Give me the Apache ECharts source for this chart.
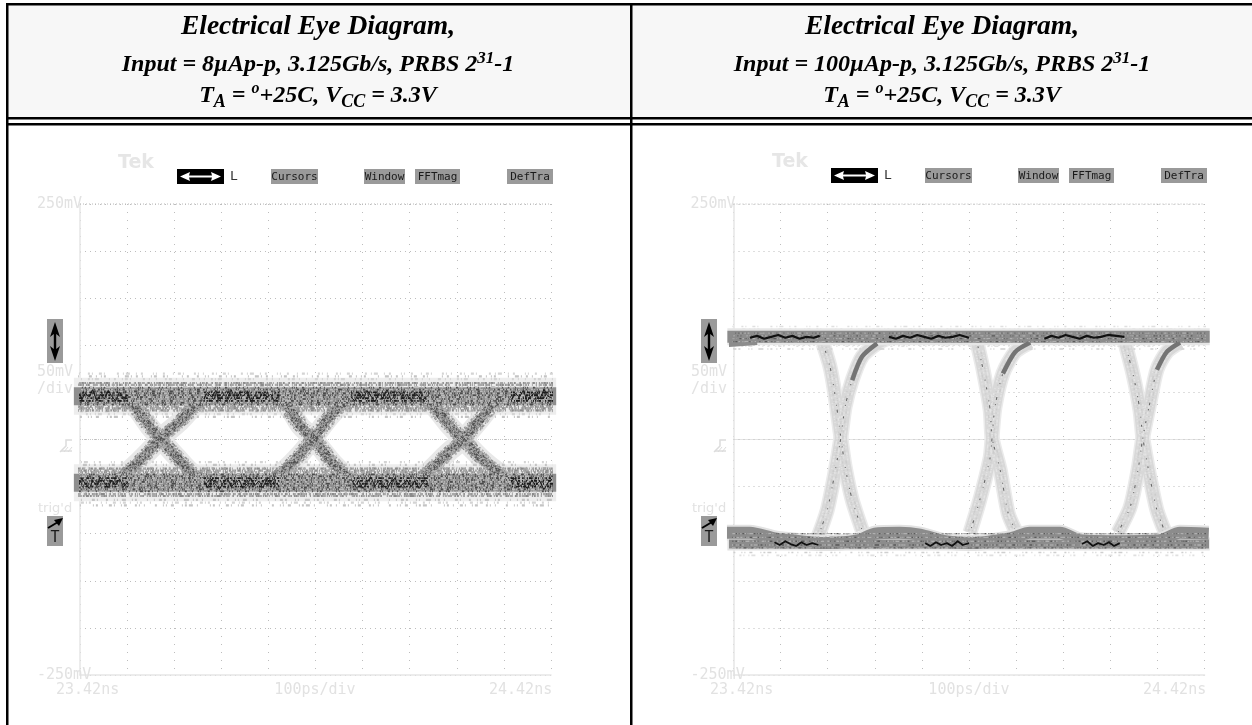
<!DOCTYPE html>
<html><head><meta charset="utf-8">
<style>html,body{margin:0;padding:0;background:#fff}#c{width:1252px;height:725px}</style>
<script src="https://cdn.jsdelivr.net/npm/echarts@6/dist/echarts.min.js"></script>
</head><body><div id="c"></div>
<script>
// ---------- axis content ----------
const yTicks = [-250, 250];
const yTickLabels = ['-250mV', '250mV'];
const xRange = [23.42, 24.42];
const xTickLabels = ['23.42ns', '100ps/div', '24.42ns'];
const traceStart = 23.407, traceEnd = 24.431;

// ---------- left panel (8 uA p-p), ns / mV ----------
const leftRailTop = 46, leftRailBottom = -46;
const leftStippleTop = [55, 53, 51, 49, 47, 45, 43, 41, 39, 37];
const leftStippleBottom = [-37, -39, -41, -43, -45, -47, -49, -51, -53, -55];
const leftFringeTop = [60, 58, 35, 33, 31];
const leftFringeBottom = [-31, -33, -35, -58, -60];
const leftHaloTop = [70, 67, 64, 30, 27, 24];
const leftHaloBottom = [-24, -27, -30, -64, -67, -70];
const armJitter = [-0.018, -0.014, -0.01, -0.006, -0.002, 0.002, 0.006, 0.01, 0.014, 0.018];
const leftFall = [
  [[23.505,44],[23.533,37],[23.569,13],[23.59,1],[23.626,-19],[23.66,-36],[23.717,-46]],
  [[23.817,44],[23.855,39],[23.887,15],[23.915,1],[23.957,-25],[23.993,-41],[24.029,-46]],
  [[24.131,44],[24.169,36],[24.199,18],[24.233,0],[24.276,-22],[24.312,-36],[24.348,-46]]
];
const leftRise = [
  [[23.484,-46],[23.526,-32],[23.575,-8],[23.59,1],[23.632,19],[23.668,37],[23.717,46]],
  [[23.813,-46],[23.855,-32],[23.887,-16],[23.915,1],[23.957,28],[23.993,42],[24.057,46]],
  [[24.12,-46],[24.156,-36],[24.199,-15],[24.233,0],[24.269,21],[24.305,42],[24.339,46]]
];
const leftScribbleX = [
  [23.408,23.416,23.424,23.431,23.44,23.447,23.456,23.463,23.472,23.48,23.487,23.496,23.504,23.512,23.522],
  [23.683,23.691,23.7,23.708,23.716,23.725,23.733,23.741,23.75,23.758,23.766,23.775,23.783,23.791,23.8,23.808,23.817,23.825,23.833,23.843],
  [23.995,24.004,24.012,24.021,24.029,24.038,24.046,24.055,24.063,24.072,24.08,24.089,24.097,24.106,24.114,24.123,24.131,24.14,24.148,24.16],
  [24.335,24.344,24.353,24.361,24.37,24.379,24.387,24.396,24.405,24.413,24.422,24.43]
];
const leftScribbleTop = [
  [44,51,42,49,45,53,41,48,43,52,46,41,50,44,47],
  [43,50,45,52,41,48,44,53,42,49,46,51,40,47,43,50,45,48,41,46],
  [45,41,50,43,52,46,40,49,44,53,42,47,51,43,48,41,50,45,42,47],
  [42,49,45,52,41,47,50,43,53,46,44,49]
];
const leftScribbleBottom = [
  [-43,-50,-41,-47,-52,-44,-49,-40,-46,-51,-43,-48,-42,-50,-45],
  [-44,-51,-42,-48,-53,-45,-41,-50,-46,-43,-52,-47,-41,-49,-44,-51,-42,-48,-45,-50],
  [-42,-49,-44,-52,-46,-40,-50,-43,-48,-53,-45,-41,-51,-47,-43,-50,-44,-52,-46,-49],
  [-45,-41,-50,-47,-52,-43,-49,-44,-53,-46,-42,-50]
];
const leftClusterLevels = [50, 47, 44, 41, -41, -44, -47, -50];

// ---------- right panel (100 uA p-p), ns / mV ----------
const rightRailTop = 109;
const rightRailTopLeft = [[23.407,103],[23.47,105]];
const rightStippleTop = [113, 110, 107, 104];
const rightStippleBottom = [-100, -104, -108, -112, -115];
const rightHaloTop = [120, 117, 99, 96];
const rightHaloBottom = [-123, -120];
const rightArmJitter = [-0.008, -0.004, 0, 0.004, 0.008];
const rightBottomUpper = [[23.406,-99],[23.455,-99],[23.508,-105],[23.561,-108],[23.604,-110],[23.684,-107],[23.72,-100],[23.773,-99],[23.816,-101],[23.869,-108],[23.922,-110],[24.007,-105],[24.049,-99],[24.113,-99],[24.156,-107],[24.234,-108],[24.325,-107],[24.368,-99],[24.429,-100]];
const rightRailBottom = -111;
const rightFall = [
  [[23.61,102],[23.625,77],[23.635,49],[23.648,2],[23.657,-29],[23.672,-64],[23.693,-96]],
  [[23.937,103],[23.95,74],[23.965,31],[23.969,2],[23.986,-32],[24.003,-78],[24.018,-96]],
  [[24.251,103],[24.268,70],[24.283,31],[24.289,2],[24.304,-40],[24.319,-75],[24.336,-98]]
];
const rightRise = [
  [[23.599,-104],[23.619,-75],[23.635,-36],[23.648,2],[23.657,35],[23.672,63],[23.693,88],[23.725,102],[23.746,107]],
  [[23.922,-99],[23.943,-64],[23.965,-19],[23.969,2],[23.975,34],[23.992,70],[24.018,93],[24.05,103]],
  [[24.236,-99],[24.262,-72],[24.279,-32],[24.289,2],[24.304,39],[24.319,74],[24.34,93],[24.368,103]]
];
const rightRiseKnee = [
  [[23.672,63],[23.693,88],[23.725,102]],
  [[23.992,70],[24.018,93],[24.05,103]],
  [[24.319,74],[24.34,93],[24.368,103]]
];
const rightScribbleX = [
  [23.455,23.47,23.485,23.5,23.515,23.53,23.545,23.56,23.575,23.59,23.603],
  [23.75,23.765,23.78,23.795,23.81,23.825,23.84,23.855,23.87,23.885,23.9,23.92],
  [24.08,24.095,24.11,24.125,24.14,24.155,24.17,24.185,24.2,24.215,24.25]
];
const rightScribbleTop = [
  [108,110,107,109,111,108,110,107,109,108,110],
  [109,107,110,108,111,109,107,110,108,109,111,108],
  [107,110,108,111,109,107,110,108,109,111,109]
];
const rightScribbleBottomX = [
  [23.507,23.518,23.53,23.541,23.553,23.564,23.575,23.587,23.6],
  [23.827,23.838,23.85,23.861,23.873,23.884,23.896,23.907,23.92],
  [24.16,24.171,24.183,24.194,24.206,24.217,24.228,24.24]
];
const rightScribbleBottom = [
  [-109,-112,-108,-111,-113,-109,-112,-110,-112],
  [-110,-113,-109,-112,-110,-113,-108,-112,-110],
  [-111,-108,-113,-110,-112,-109,-113,-110]
];

// ---------- header texts ----------
const leftTitle = ['Electrical Eye Diagram,', 'Input = 8µAp-p, 3.125Gb/s, PRBS 2{sup|31}-1', 'T{sub|A} = {sup2|o}+25C, V{sub|CC} = 3.3V'];
const rightTitle = ['Electrical Eye Diagram,', 'Input = 100µAp-p, 3.125Gb/s, PRBS 2{sup|31}-1', 'T{sub|A} = {sup2|o}+25C, V{sub|CC} = 3.3V'];
const softKeys = [['Cursors',271,318],['Window',364,405],['FFTmag',415,460],['DefTra',507,553]];

// ---------- drawing ----------
const zip = (xs, ys) => xs.map((x, i) => [x, ys[i]]);
const dashes = [
  [1,2,1,4,2,1,1,3,3,1,1,6,2,2,1,1,4,3,1,2,2,5,1,1,1,3,2,4,1,2,3,1,1,5,2,1],
  [2,3,1,1,1,5,3,2,1,2,1,1,2,6,1,3,4,1,1,2,2,2,1,4,1,1,3,3,2,1,1,7,1,2,2,4],
  [1,4,3,2,1,2,1,3,2,1,1,1,4,5,1,2,2,3,1,1,3,1,1,6,2,2,1,3,1,4,2,1,3,2,1,3],
  [1,1,2,5,1,3,1,2,3,1,2,4,1,1,1,3,5,2,1,1,2,2,1,5,3,1,1,4,2,3,1,1,1,2,4,3],
  [3,2,1,3,1,1,2,4,1,6,2,1,1,2,1,1,4,3,2,2,1,4,3,1,1,1,2,5,1,2,1,3,3,2,1,1],
  [1,3,1,1,3,4,2,1,1,2,1,5,2,3,1,1,1,2,3,4,1,1,2,1,4,2,1,6,1,1,2,2,1,3,3,1]
];
const sparse = dashes.map(d => d.map((v, i) => i % 2 ? v * 2 : v));
const series = [];
function line(p, data, color, width, dash, z, smooth, offset) {
  series.push({ type:'line', xAxisIndex:p, yAxisIndex:p, data, clip:false, silent:true, showSymbol:false, symbol:'none',
    smooth: smooth ? 0.25 : false, z: z,
    lineStyle:{ color, width, type: dash || 'solid', dashOffset: offset || 0, cap:'butt', join:'round' } });
}
const rail = lv => [[traceStart, lv], [traceEnd, lv]];
const full = lv => [[xRange[0], lv], [xRange[1], lv]];
const shiftX = (a, dx) => a.map(q => [q[0] + dx, q[1]]);

// reference rows of the graticule, both panels
[0, 1].forEach(p => {
  line(p, full(250), '#b8b8b8', 1, [1,2], 2);
  line(p, full(0), '#c8c8c8', 1, [1,1], 2);
});

// left panel: halo, body, stipple, scribbles
const leftArms = [...leftFall, ...leftRise];
[leftRailTop, leftRailBottom].forEach(lv => line(0, rail(lv), '#ededed', 37, null, 3));
leftArms.forEach(a => line(0, a, '#e8e8e8', 20, null, 3, true));
[...leftHaloTop, ...leftHaloBottom].forEach((lv, i) => line(0, rail(lv), i % 2 ? '#c4c4c4' : '#d4d4d4', 2.2, sparse[i % 6], 4, false, i * 7));
[leftRailTop, leftRailBottom].forEach(lv => line(0, rail(lv), '#8e8e8e', 18, null, 5));
leftArms.forEach(a => line(0, a, '#8e8e8e', 9, null, 5, true));
[...leftFringeTop, ...leftFringeBottom].forEach((lv, i) => {
  line(0, rail(lv), '#8a8a8a', 2.2, dashes[i % 6], 5, false, i * 9);
  line(0, rail(lv), '#a8a8a8', 2.2, dashes[(i + 2) % 6], 5, false, i * 13);
});
leftArms.forEach((a, i) => armJitter.forEach((j, k) => {
  const edge = k < 2 || k > 7;
  line(0, shiftX(a, j), edge ? '#8a8a8a' : '#4e4e4e', 1.5, dashes[(i + k) % 6], 6, true, i * 3 + k * 5);
  line(0, shiftX(a, j + 0.002), '#b4b4b4', 1.5, dashes[(i + k + 3) % 6], 6, true, i * 7 + k * 2);
}));
[...leftStippleTop, ...leftStippleBottom].forEach((lv, i) => {
  line(0, rail(lv), '#4a4a4a', 1.7, dashes[i % 6], 6, false, i * 11);
  line(0, rail(lv), '#bcbcbc', 1.7, dashes[(i + 3) % 6], 6, false, i * 17);
});
leftScribbleX.forEach((xs, i) => {
  const seg = [xs[0], xs[xs.length - 1]];
  line(0, zip(xs, leftScribbleTop[i]), '#111111', 0.9, null, 7);
  line(0, zip(xs, leftScribbleBottom[i]), '#111111', 0.9, null, 7);
  leftClusterLevels.forEach((lv, k) => line(0, [[seg[0], lv], [seg[1], lv]], '#1c1c1c', 1.8, dashes[(i + k) % 6], 7, false, k * 9));
});

// right panel
const rightArms = [...rightFall, ...rightRise];
rightArms.forEach(a => line(1, a, '#eaeaea', 15, null, 3, true));
[...rightHaloTop, ...rightHaloBottom].forEach((lv, i) => line(1, rail(lv), i % 2 ? '#cfcfcf' : '#e0e0e0', 1.6, sparse[i % 6], 3, false, i * 7));
rightArms.forEach(a => line(1, a, '#d8d8d8', 12, null, 4, true));
rightArms.forEach((a, i) => {
  rightArmJitter.forEach((j, k) => line(1, shiftX(a, j), k % 2 ? '#cccccc' : '#e4e4e4', 1.5, dashes[(i + k) % 6], 4, true, i * 5 + k * 3));
  line(1, a, '#666666', 1.1, [1,7,2,11,1,4,3,13], 5, true, i * 4);
});
line(1, rail(rightRailTop), '#e6e6e6', 17, null, 5);
line(1, rail(rightRailTop), '#8c8c8c', 12, null, 6);
line(1, rightRailTopLeft, '#8c8c8c', 9, null, 6);
line(1, rightBottomUpper, '#e2e2e2', 16, null, 5, true);
line(1, rail(rightRailBottom), '#e2e2e2', 13, null, 5);
line(1, rightBottomUpper, '#8c8c8c', 12, null, 6, true);
line(1, rail(rightRailBottom), '#8c8c8c', 9, null, 6);
rightRiseKnee.forEach(a => line(1, a, '#747474', 4.5, null, 6, true));
rightStippleTop.forEach((lv, i) => {
  line(1, rail(lv), '#5a5a5a', 1.3, dashes[i % 6], 7, false, i * 11);
  line(1, rail(lv), '#b0b0b0', 1.3, dashes[(i + 3) % 6], 7, false, i * 5);
});
rightStippleBottom.forEach((lv, i) => {
  line(1, rail(lv), '#5a5a5a', 1.3, dashes[i % 6], 7, false, i * 13);
  line(1, rail(lv), '#b0b0b0', 1.3, dashes[(i + 2) % 6], 7, false, i * 7);
});
rightScribbleX.forEach((xs, i) => line(1, zip(xs, rightScribbleTop[i]), '#111111', 2.2, null, 8));
rightScribbleBottomX.forEach((xs, i) => line(1, zip(xs, rightScribbleBottom[i]), '#111111', 1.8, null, 8));

const scopeFont = '"DejaVu Sans Mono", monospace';
const pale = '#e2e2e2';
function axes(gridIndex) {
  return {
    x: { gridIndex, type:'value', min:xRange[0], max:xRange[1], interval:0.1,
      axisLine:{ onZero:false, lineStyle:{ color:'#e6e6e6', width:1.5 } }, axisTick:{ show:false },
      splitLine:{ show:true, lineStyle:{ color:'#bdbdbd', width:1, type:[1,7] } },
      axisLabel:{ show:false } },
    y: { gridIndex, type:'value', min:yTicks[0], max:yTicks[1], interval:50,
      axisLine:{ onZero:false, lineStyle:{ color:'#e6e6e6', width:1.5 } }, axisTick:{ show:false },
      splitLine:{ show:true, lineStyle:{ color:'#bdbdbd', width:1, type:[1,4] } },
      axisLabel:{ show:true, margin:43, align:'left', fontFamily:scopeFont, fontSize:15, color:pale,
        formatter: v => { const i = yTicks.indexOf(v); return i < 0 ? '' : yTickLabels[i]; } } }
  };
}
const a0 = axes(0), a1 = axes(1);

// header titles
const serif = { fontFamily:'Liberation Serif', fontStyle:'italic', fontWeight:'bold', color:'#000' };
const rich = {
  sup:Object.assign({ fontSize:17, verticalAlign:'top', lineHeight:16 }, serif),
  sup2:Object.assign({ fontSize:16, verticalAlign:'top', lineHeight:16 }, serif),
  sub:Object.assign({ fontSize:18, verticalAlign:'bottom', lineHeight:14 }, serif)
};
function titles(lines, cx) {
  const tops = [12, 50, 81], sizes = [27.5, 24, 24];
  return lines.map((t, i) => ({ text:t, left:cx, top:tops[i], textAlign:'center', padding:0,
    textStyle:Object.assign({ fontSize:sizes[i], lineHeight:30, rich }, serif) }));
}

// oscilloscope screen furniture and table rules
function txt(x, y, s, size, color, extra) {
  return Object.assign({ type:'text', x, y, silent:true, z:20,
    style:Object.assign({ text:s, font:`${size}px ${scopeFont}`, fill:color, textVerticalAlign:'middle' }, extra || {}) });
}
function box(x, y, w, h, c) { return { type:'rect', silent:true, z:19, shape:{ x, y, width:w, height:h }, style:{ fill:c } }; }
function poly(points, c) { return { type:'polygon', silent:true, z:20, shape:{ points }, style:{ fill:c } }; }
function pl(points, c, w) { return { type:'polyline', silent:true, z:20, shape:{ points }, style:{ stroke:c, lineWidth:w, fill:null } }; }
function chrome(d, e) {
  const g = [];
  g.push(txt(118 + d, 163 + e, 'Tek', 19, '#e6e6e6', { font:'bold 19px "DejaVu Sans"' }));
  g.push(box(177 + d, 169 + e, 47, 15, '#000'));
  g.push(poly([[180+d,176.5+e],[190+d,172+e],[189+d,175.5+e],[212+d,175.5+e],[211+d,172+e],[221+d,176.5+e],[211+d,181+e],[212+d,177.5+e],[189+d,177.5+e],[190+d,181+e]], '#fff'));
  g.push(txt(230 + d, 177 + e, 'L', 13, '#333'));
  softKeys.forEach(k => {
    g.push(box(k[1] + d, 169 + e, k[2] - k[1], 15, '#9a9a9a'));
    g.push(txt((k[1] + k[2]) / 2 + d, 177 + e, k[0], 11, '#1a1a1a', { textAlign:'center' }));
  });
  g.push(box(47 + d, 319, 16, 44, '#9a9a9a'));
  g.push(poly([[55+d,322],[60+d,337],[56.2+d,334],[56.2+d,349],[60+d,346],[55+d,361],[50+d,346],[53.8+d,349],[53.8+d,334],[50+d,337]], '#000'));
  g.push(txt(37 + d, 372, '50mV', 15, pale));
  g.push(txt(37 + d, 389, '/div', 15, pale));
  g.push(txt(38 + d, 509, "trig'd", 13, pale, { font:'13px "DejaVu Sans"' }));
  g.push(pl([[60+d,452],[66+d,446],[66+d,440],[72+d,440]], '#dcdcdc', 1.5));
  g.push(pl([[61+d,451],[72+d,451]], '#dcdcdc', 1.5));
  g.push(pl([[64+d,452],[68+d,447]], '#dcdcdc', 1));
  g.push(pl([[68+d,452],[72+d,447]], '#dcdcdc', 1));
  g.push(box(47 + d, 516, 16, 30, '#9a9a9a'));
  g.push(pl([[48+d,528],[58+d,522]], '#000', 2));
  g.push(poly([[63+d,518],[54+d,520],[59+d,526]], '#000'));
  g.push(txt(55 + d, 538, 'T', 15, '#1a1a1a', { textAlign:'center' }));
  g.push(txt(56 + d, 690, xTickLabels[0], 15, pale));
  g.push(txt(315 + d, 690, xTickLabels[1], 15, pale, { textAlign:'center' }));
  g.push(txt(489 + d, 690, xTickLabels[2], 15, pale));
  return g;
}
const frame = [
  { type:'rect', silent:true, z:-1, shape:{ x:7, y:4, width:1245, height:114 }, style:{ fill:'#f7f7f7' } },
  { type:'rect', silent:true, z:1, shape:{ x:6, y:3, width:1246, height:2.5 }, style:{ fill:'#000' } },
  { type:'rect', silent:true, z:1, shape:{ x:6, y:117, width:1246, height:2.5 }, style:{ fill:'#000' } },
  { type:'rect', silent:true, z:1, shape:{ x:6, y:123, width:1246, height:2.5 }, style:{ fill:'#000' } },
  { type:'rect', silent:true, z:1, shape:{ x:6, y:3, width:2.5, height:722 }, style:{ fill:'#000' } },
  { type:'rect', silent:true, z:1, shape:{ x:630, y:3, width:2.5, height:722 }, style:{ fill:'#000' } }
];

const chart = echarts.init(document.getElementById('c'), null, { renderer:'canvas' });
chart.setOption({
  animation:false,
  backgroundColor:'#fff',
  title:[...titles(leftTitle, 318), ...titles(rightTitle, 942)],
  grid:[
    { left:80, top:204, width:471, height:471, containLabel:false },
    { left:733.5, top:204, width:471, height:471, containLabel:false }
  ],
  xAxis:[a0.x, a1.x],
  yAxis:[a0.y, a1.y],
  series,
  graphic:[...frame, ...chrome(0, 0), ...chrome(654, -1)]
});
</script>
</body></html>
